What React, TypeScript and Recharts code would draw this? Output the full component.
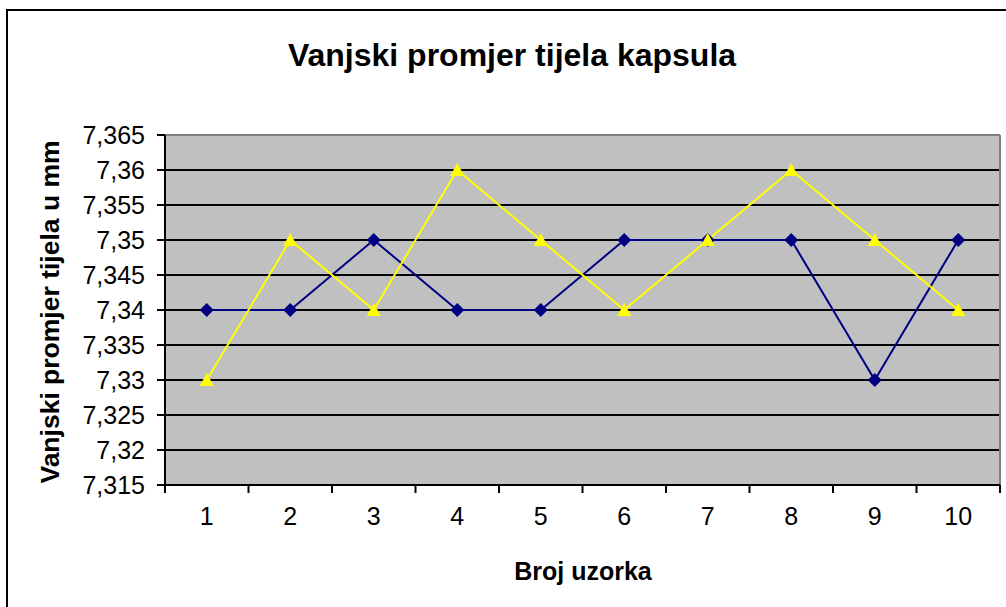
import {
  LineChart,
  Line,
  XAxis,
  YAxis,
  CartesianGrid,
  ReferenceLine,
} from 'recharts'

const uzorci = [1, 2, 3, 4, 5, 6, 7, 8, 9, 10]
const serijaA = [7.34, 7.34, 7.35, 7.34, 7.34, 7.35, 7.35, 7.35, 7.33, 7.35]
const serijaB = [7.33, 7.35, 7.34, 7.36, 7.35, 7.34, 7.35, 7.36, 7.35, 7.34]
const yTicks = [7.315, 7.32, 7.325, 7.33, 7.335, 7.34, 7.345, 7.35, 7.355, 7.36, 7.365]
// category ticks sit between the categories (Excel style)
const xMarks = [0.5, 1.5, 2.5, 3.5, 4.5, 5.5, 6.5, 7.5, 8.5, 9.5, 10.5]

const data = uzorci.map((u, i) => ({ uzorak: u, a: serijaA[i], b: serijaB[i] }))
const xTicks = [...xMarks, ...uzorci].sort((p, q) => p - q)

const FONT = '"Liberation Sans", Arial, sans-serif'

const fmt = (v: number) => String(v).replace('.', ',')

const XTick = (props: any) => {
  const { x, y, payload } = props
  const v = payload.value as number
  if (!Number.isInteger(v)) {
    return <line x1={x} y1={y} x2={x} y2={y + 8} stroke="#000" strokeWidth={2} />
  }
  return (
    <text x={x} y={y + 40} textAnchor="middle" fontSize={25} fontFamily={FONT} fill="#000">
      {v}
    </text>
  )
}

const Diamond = (props: any) => {
  const { cx, cy, index } = props
  if (cx == null || cy == null) return <g key={`d${index}`} />
  return (
    <path
      key={`d${index}`}
      d={`M${cx},${cy - 7} L${cx + 7},${cy} L${cx},${cy + 7} L${cx - 7},${cy} Z`}
      fill="#000080"
    />
  )
}

const Triangle = (props: any) => {
  const { cx, cy, index } = props
  if (cx == null || cy == null) return <g key={`t${index}`} />
  return (
    <path
      key={`t${index}`}
      d={`M${cx},${cy - 7} L${cx + 7},${cy + 6} L${cx - 7},${cy + 6} Z`}
      fill="#FFFF00"
    />
  )
}

export default function App() {
  return (
    <div style={{ position: 'absolute', left: 0, top: 0, width: 1006, height: 607, background: '#fff', overflow: 'hidden' }}>
      <div
        style={{
          position: 'absolute',
          left: 6,
          top: 9,
          width: 1100,
          height: 700,
          borderTop: '2px solid #000',
          borderLeft: '2px solid #000',
        }}
      />
      <div
        style={{
          position: 'absolute',
          left: 9,
          width: 1006,
          top: 35,
          textAlign: 'center',
          fontFamily: FONT,
          fontWeight: 'bold',
          fontSize: 32,
          lineHeight: '40px',
        }}
      >
        Vanjski promjer tijela kapsula
      </div>
      <div
        style={{
          position: 'absolute',
          left: 50 - 200,
          top: 312 - 16,
          width: 400,
          textAlign: 'center',
          fontFamily: FONT,
          fontWeight: 'bold',
          fontSize: 26.5,
          lineHeight: '32px',
          transform: 'rotate(-90deg)',
        }}
      >
        Vanjski promjer tijela u mm
      </div>
      <div
        style={{
          position: 'absolute',
          left: 383,
          width: 400,
          top: 555,
          textAlign: 'center',
          fontFamily: FONT,
          fontWeight: 'bold',
          fontSize: 25,
          lineHeight: '32px',
        }}
      >
        Broj uzorka
      </div>
      <div style={{ position: 'absolute', left: 0, top: 0 }}>
        <LineChart
          width={1006}
          height={607}
          data={data}
          margin={{ top: 135, right: 6, bottom: 82, left: 65 }}
        >
          <CartesianGrid vertical={false} stroke="#000" strokeWidth={2} fill="#C0C0C0" fillOpacity={1} />
          <XAxis
            dataKey="uzorak"
            type="number"
            domain={[0.5, 10.5]}
            ticks={xTicks}
            interval={0}
            height={40}
            tickLine={false}
            tickSize={0}
            tickMargin={0}
            tick={<XTick />}
            axisLine={{ stroke: '#000', strokeWidth: 2 }}
          />
          <YAxis
            type="number"
            domain={[7.315, 7.365]}
            ticks={yTicks}
            interval={0}
            width={100}
            tickSize={8}
            tickMargin={12}
            tickFormatter={fmt}
            tick={{ fontSize: 25, fontFamily: FONT, fill: '#000' }}
            tickLine={{ stroke: '#000', strokeWidth: 2 }}
            axisLine={{ stroke: '#000', strokeWidth: 2 }}
          />
          <ReferenceLine y={7.365} stroke="#808080" strokeWidth={2} />
          <ReferenceLine x={10.5} stroke="#808080" strokeWidth={2} />
          <Line
            type="linear"
            dataKey="a"
            stroke="#000080"
            strokeWidth={2}
            dot={Diamond}
            activeDot={false}
            isAnimationActive={false}
          />
          <Line
            type="linear"
            dataKey="b"
            stroke="#FFFF00"
            strokeWidth={2}
            dot={Triangle}
            activeDot={false}
            isAnimationActive={false}
          />
        </LineChart>
      </div>
    </div>
  )
}
